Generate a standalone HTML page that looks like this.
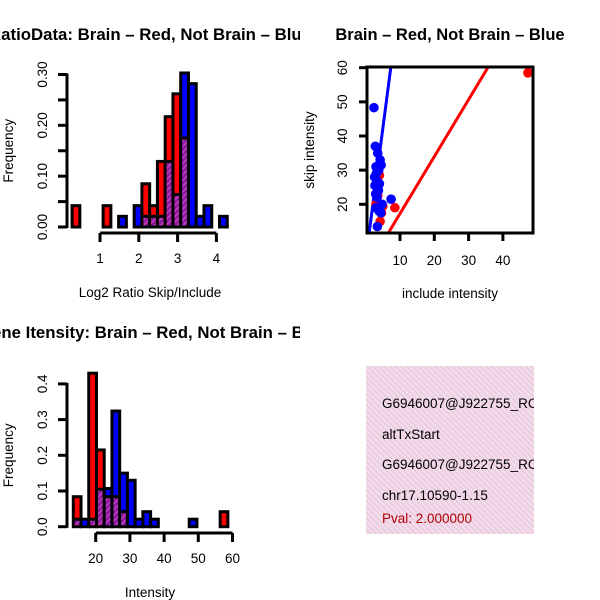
<!DOCTYPE html>
<html><head><meta charset="utf-8"><style>
body{margin:0;background:#fff}
svg{display:block;font-family:"Liberation Sans",sans-serif}
</style></head><body>
<svg id="c" width="600" height="600" viewBox="0 0 600 600">
<defs>
<pattern id="hatch" patternUnits="userSpaceOnUse" width="4" height="4" patternTransform="rotate(45)">
<rect width="4" height="4" fill="#8b1a9b"/><rect width="1.5" height="4" fill="#c040c0"/></pattern>
<pattern id="pink" patternUnits="userSpaceOnUse" width="4" height="4" patternTransform="rotate(-45)">
<rect width="4" height="4" fill="#f8d8f0"/><rect width="1.2" height="4" fill="#dcd0d0"/></pattern>
<clipPath id="cl1"><rect x="0" y="0" width="300" height="300"/></clipPath>
<clipPath id="cl3"><rect x="0" y="300" width="300" height="300"/></clipPath>
<clipPath id="cl4"><rect x="300" y="300" width="234" height="300"/></clipPath>
<clipPath id="cl2"><rect x="367" y="67" width="166" height="166"/></clipPath>
</defs>
<g id="p1" clip-path="url(#cl1)"></g>
<g id="p2"></g>
<g id="p3" clip-path="url(#cl3)"></g>
<g id="p4" clip-path="url(#cl4)">
<rect x="366" y="366" width="168" height="168" fill="url(#pink)"/>
<g font-size="13.5">
<text x="382" y="408">G6946007@J922755_RC</text>
<text x="382" y="439">altTxStart</text>
<text x="382" y="469">G6946007@J922755_RC</text>
<text x="382" y="500">chr17.10590-1.15</text>
<text x="382" y="523" fill="#b00000">Pval: 2.000000</text>
</g></g>
</svg>
<script>
// Histogram 1 (log2 ratio), bins of 0.2 starting 0.28
const h1Start = 0.28, h1Width = 0.2;
const h1Red  = [0.042,0,0,0,0.042,0,0,0,0,0.085,0.042,0.129,0.217,0.262,0.175,0,0,0,0,0];
const h1Blue = [0,0,0,0,0,0,0.021,0,0.042,0.021,0.021,0.021,0.129,0.064,0.303,0.282,0.021,0.042,0,0.021];
const h1XTicks = [1,2,3,4];
const h1YTicks = ["0.00","0.10","0.20","0.30"];
const h1YMinor = [0,0.05,0.1,0.15,0.2,0.25,0.3];
// Histogram 2 (intensity), bins of 2.26 starting 13.45
const h2Start = 13.45, h2Width = 2.26;
const h2Red  = [0.084,0,0.43,0.215,0.084,0.084,0.042,0,0,0,0,0,0,0,0,0,0,0,0,0.042];
const h2Blue = [0.021,0.021,0.021,0.105,0.107,0.324,0.15,0.13,0.021,0.042,0.021,0,0,0,0,0.021,0,0,0,0];
const h2XTicks = [20,30,40,50,60];
const h2YTicks = ["0.0","0.1","0.2","0.3","0.4"];
// Scatter
const redX = [47.3,8.5,4.0,3.0,4.2,5.0,4.6,3.5];
const redY = [58.5,19.0,28.5,20.0,15.0,19.5,17.5,22.5];
const blueX = [2.4,7.4,2.8,3.5,4.2,3.0,3.8,4.5,2.6,3.2,4.0,3.6,2.9,3.3,4.8,3.0,3.9,2.7,4.4,3.4,3.1,3.7];
const blueY = [48.3,21.5,37.0,35.0,33.0,31.0,30.0,31.5,28.0,27.0,26.0,24.5,23.0,22.0,20.0,19.0,18.0,25.5,17.5,13.5,29.0,24.0];
const lineIntercept = [0.57,3.93];
const lineSlope = [1.67,7.67];
const scXTicks = [10,20,30,40];
const scYTicks = [20,30,40,50,60];

const FS=13.5, TFS=16.5;
const NS="http://www.w3.org/2000/svg";
function mk(parent,tag,attrs){const e=document.createElementNS(NS,tag);for(const k in attrs)e.setAttribute(k,attrs[k]);parent.appendChild(e);return e;}

function hist(g,start,width,red,blue,xs,ys,yVals,xTicks,yTicks,yMinor,xlab,title,axisY,xTickRange){
  const base=ys(0);
  for(let i=0;i<red.length;i++){
    const x0=xs(start+i*width),x1=xs(start+(i+1)*width);
    const r=red[i],b=blue[i];const mx=Math.max(r,b),mn=Math.min(r,b);
    if(mx>0){
      const bar=mk(g,'rect',{x:x0,y:ys(mx),width:x1-x0,height:base-ys(mx),fill:r>=b?'#ff0000':'#0000ff',stroke:'#000','stroke-width':3});
      
      
      if(mn>0){
        const ov=mk(g,'rect',{x:x0+1.5,y:ys(mn),width:x1-x0-3,height:base-ys(mn)-1.5,fill:'url(#hatch)'});
        
        
        mk(g,'line',{x1:x0,x2:x1,y1:ys(mn),y2:ys(mn),stroke:'#000','stroke-width':3});
      }
    }
  }
  const yax=mk(g,'line',{x1:67,x2:67,y1:ys(yMinor[yMinor.length-1])-1,y2:ys(0)+1,stroke:'#000','stroke-width':3});
  
  
  yMinor.forEach(v=>mk(g,'line',{x1:58,x2:67,y1:ys(v),y2:ys(v),stroke:'#000','stroke-width':3}));
  yVals.forEach((v,i)=>{const t=mk(g,'text',{x:0,y:0,'font-size':FS,'text-anchor':'middle',transform:`translate(47,${ys(v)}) rotate(-90)`});t.textContent=yTicks[i];
    
    });
  const xax=mk(g,'line',{x1:xs(xTickRange[0]),x2:xs(xTickRange[1]),y1:axisY,y2:axisY,stroke:'#000','stroke-width':3});
  
  
  xTicks.forEach(v=>{mk(g,'line',{x1:xs(v),x2:xs(v),y1:axisY,y2:axisY+9,stroke:'#000','stroke-width':3});
    const t=mk(g,'text',{x:xs(v),y:axisY+30,'font-size':FS,'text-anchor':'middle'});t.textContent=v;
    
    });
  const xl=mk(g,'text',{x:150,y:axisY+64,'font-size':FS,'text-anchor':'middle'});xl.textContent=xlab;
  
  
  const yl=mk(g,'text',{x:0,y:0,'font-size':FS,'text-anchor':'middle',transform:`translate(13,${(ys(0)+ys(yMinor[yMinor.length-1]))/2}) rotate(-90)`});yl.textContent='Frequency';
  
  
  const tt=mk(g,'text',{x:title[2],y:title[1],'font-size':TFS,'font-weight':'bold',textLength:title[3],lengthAdjust:'spacingAndGlyphs'});tt.textContent=title[0];
  
  
}

{const g=document.getElementById('p1');
 const xs=v=>100+(v-1)*38.8, ys=v=>227-v*508.3;
 hist(g,h1Start,h1Width,h1Red,h1Blue,xs,ys,[0,0.1,0.2,0.3],h1XTicks,h1YTicks,h1YMinor,'Log2 Ratio Skip/Include',['RatioData: Brain \u2013 Red, Not Brain \u2013 Blue',40,-11,322],233,[1,4]);}
{const g=document.getElementById('p3');
 const xs=v=>95.7+(v-20)*3.42, ys=v=>526.7-v*357;
 hist(g,h2Start,h2Width,h2Red,h2Blue,xs,ys,[0,0.1,0.2,0.3,0.4],h2XTicks,h2YTicks,[0,0.1,0.2,0.3,0.4],'Intensity',['Gene Itensity: Brain \u2013 Red, Not Brain \u2013 Blue',338,-21,349],533,[20,60]);}
{const g=document.getElementById('p2');
 const xs=v=>400+(v-10)*3.43, ys=v=>204.3-(v-20)*3.415;
 const pts=mk(g,'g',{'clip-path':'url(#cl2)'});
 const lineColors=['#ff0000','#0000ff'];
 for(let i=0;i<2;i++){const x0=0,x1=60;
   const l=mk(pts,'line',{x1:xs(x0),y1:ys(lineIntercept[i]+lineSlope[i]*x0),x2:xs(x1),y2:ys(lineIntercept[i]+lineSlope[i]*x1),stroke:lineColors[i],'stroke-width':3});
   
   }
 redX.forEach((x,i)=>{const c=mk(g,'circle',{cx:xs(x),cy:ys(redY[i]),r:4.8,fill:'#ff0000'});
   
   });
 blueX.forEach((x,i)=>{const c=mk(g,'circle',{cx:xs(x),cy:ys(blueY[i]),r:4.8,fill:'#0000ff'});
   
   });
 const box=mk(g,'rect',{x:367,y:67,width:166,height:166,fill:'none',stroke:'#000','stroke-width':3});
 
 
 scXTicks.forEach(v=>{mk(g,'line',{x1:xs(v),x2:xs(v),y1:233,y2:241,stroke:'#000','stroke-width':3});
   const t=mk(g,'text',{x:xs(v),y:265,'font-size':FS,'text-anchor':'middle'});t.textContent=v;
   
   });
 scYTicks.forEach(v=>{mk(g,'line',{x1:359,x2:367,y1:ys(v),y2:ys(v),stroke:'#000','stroke-width':3});
   const t=mk(g,'text',{x:0,y:0,'font-size':FS,'text-anchor':'middle',transform:`translate(347,${ys(v)}) rotate(-90)`});t.textContent=v;
   
   });
 const xl=mk(g,'text',{x:450,y:298,'font-size':FS,'text-anchor':'middle'});xl.textContent='include intensity';
 
 
 const yl=mk(g,'text',{x:0,y:0,'font-size':FS,'text-anchor':'middle',transform:'translate(314,150) rotate(-90)'});yl.textContent='skip intensity';
 
 
 const tt=mk(g,'text',{x:450,y:40,'font-size':TFS,'font-weight':'bold','text-anchor':'middle'});tt.textContent='Brain \u2013 Red, Not Brain \u2013 Blue';
 
 }
</script>
</body></html>
